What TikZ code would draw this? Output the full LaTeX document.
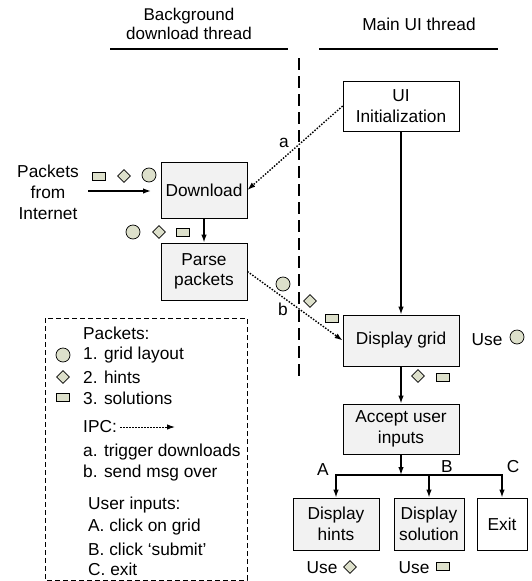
\documentclass[tikz,border=0pt]{standalone}
\usepackage{fontspec}
\setmainfont{Liberation Sans}
\usetikzlibrary{arrows.meta,shapes.geometric}
\definecolor{boxfill}{HTML}{F2F2F2}
\definecolor{symfill}{HTML}{DDE0CB}
\begin{document}
\begin{tikzpicture}[x=1pt,y=-1pt,
  font=\fontsize{17.3}{20.5}\selectfont,
  box/.style={draw, line width=0.8pt, fill=boxfill, align=center, inner sep=0pt},
  wbox/.style={box, fill=white},
  txt/.style={inner sep=0pt, align=center},
  ltxt/.style={inner sep=0pt, anchor=west},
  circsym/.style={circle, draw, line width=0.7pt, fill=symfill, minimum size=14, inner sep=0pt},
  diamsym/.style={diamond, draw, line width=0.7pt, fill=symfill, minimum size=13, inner sep=0pt},
  rectsym/.style={rectangle, draw, line width=0.7pt, fill=symfill, minimum width=13, minimum height=8, inner sep=0pt},
  arr/.style={line width=1.4pt, -{Latex[length=8pt,width=5.5pt]}},
  ipc/.style={line width=1.4pt, dash pattern=on 1.5pt off 1.5pt, -{Latex[length=8pt,width=5.5pt]}},
]
\useasboundingbox (0,0) rectangle (532,581);

% headers
\node[txt, font=\fontsize{17}{18.5}\selectfont] (hbg) at (189,24) {Background\\download thread};
\node[txt] (hui) at (419,24) {Main UI thread};
\draw[line width=2pt] (110,49) -- (288,49);
\draw[line width=2pt] (319,49) -- (498,49);
\draw[line width=1.5pt, dash pattern=on 12pt off 6pt] (299,58) -- (299,380);

% boxes
\node[box, minimum width=86, minimum height=56] (dl) at (204,190) {Download};
\node[box, minimum width=86, minimum height=57] (pp) at (204,271.5) {Parse\\packets};
\node[wbox, minimum width=116, minimum height=50] (ui) at (401,106) {UI\\Initialization};
\node[box, minimum width=116, minimum height=51] (dg) at (401,340.5) {Display grid};
\node[box, minimum width=116, minimum height=50] (acc) at (401,429) {Accept user\\inputs};
\node[box, minimum width=86, minimum height=52] (hints) at (336,524) {Display\\hints};
\node[box, minimum width=70, minimum height=52] (sol) at (429,524) {Display\\solution};
\node[wbox, minimum width=50, minimum height=52] (exit) at (502,524) {Exit};

% packets from internet
\node[txt, font=\fontsize{17.3}{21}\selectfont] (pkt) at (48,192) {Packets\\from\\Internet};
\coordinate (inA) at (88,191);
\coordinate (inB) at (151,191);
\draw[arr] (inA) -- (inB);
\node[rectsym] (s1) at (99,176) {};
\node[diamsym] (s2) at (124,176) {};
\node[circsym] (s3) at (149,175) {};

\node[circsym] (s4) at (133,232) {};
\node[diamsym] (s5) at (159,232) {};
\node[rectsym] (s6) at (183,232) {};

\draw[arr] (dl.south) -- (pp.north);
\draw[arr] (ui.south) -- (dg.north);

% IPC arrows
\draw[ipc] (ui.west) -- (dl.east);
\node[txt] (la) at (284,143) {a};
\draw[ipc] (pp.east) -- (dg.west);
\node[txt] (lb) at (283,309) {b};
\node[circsym] (s7) at (283,284) {};
\node[diamsym] (s8) at (310,301) {};
\node[rectsym] (s9) at (332,318) {};

\node[txt] (use1) at (487,340) {Use};
\node[circsym] (s10) at (517,337) {};
\node[diamsym] (s11) at (418,376) {};
\node[rectsym] (s12) at (443,377) {};

\draw[arr] (dg.south) -- (acc.north);

% branching
\coordinate (j) at (401,475);
\draw[arr] (acc.south) -- (j);
\draw[line width=2pt] (hints.north |- j) -- (exit.north |- j);
\draw[arr] (j) -| (hints.north);
\draw[arr] (j) -| (sol.north);
\draw[arr] (j) -| (exit.north);
\node[txt] (lA) at (323,470) {A};
\node[txt] (lB) at (447,467) {B};
\node[txt] (lC) at (513,467) {C};

\node[txt] (use2) at (322,568) {Use};
\node[diamsym] (s13) at (350,567) {};
\node[txt] (use3) at (414,568) {Use};
\node[rectsym] (s14) at (443,566) {};

% legend
\draw[line width=0.8pt, dash pattern=on 5pt off 3pt] (45,318) rectangle (247,580);
\node[ltxt] (l1) at (83,333) {Packets:};
\node[ltxt] (l2) at (83,355) {1. grid layout};
\node[ltxt] (l3) at (83,377) {2. hints};
\node[ltxt] (l4) at (83,398) {3. solutions};
\node[circsym] (g1) at (63,355) {};
\node[diamsym] (g2) at (63,377) {};
\node[rectsym] (g3) at (63,397) {};
\node[ltxt] (l5) at (83,427) {IPC:};
\coordinate (ipcA) at (120,427);
\coordinate (ipcB) at (175,427);
\draw[ipc, line width=1pt] (ipcA) -- (ipcB);
\node[ltxt] (l6) at (83,452) {a. trigger downloads};
\node[ltxt] (l7) at (83,473) {b. send msg over};
\node[ltxt] (l8) at (88,505) {User inputs:};
\node[ltxt] (l9) at (88,527) {A. click on grid};
\node[ltxt] (l10) at (88,549) {B. click `submit'};
\node[ltxt] (l11) at (88,569) {C. exit};
\end{tikzpicture}
\end{document}
